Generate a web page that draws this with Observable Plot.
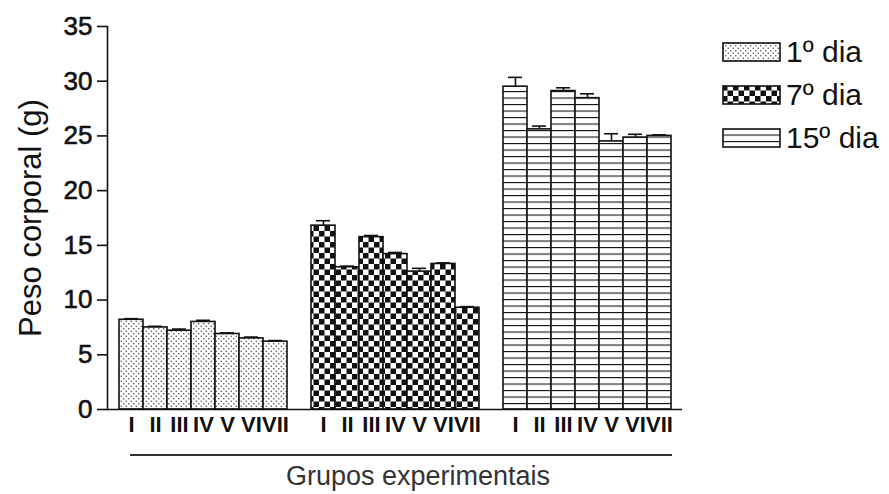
<!DOCTYPE html>
<html>
<head>
<meta charset="utf-8">
<script src="https://cdn.jsdelivr.net/npm/d3@7"></script>
<script src="https://cdn.jsdelivr.net/npm/@observablehq/plot@0.6"></script>
<style>
  html, body { margin: 0; padding: 0; background: #fff; overflow: hidden; }
  #wrap { position: relative; width: 889px; height: 494px; font-family: "Liberation Sans", Arial, sans-serif; }
  #chart { position: absolute; left: 0; top: 0; }
  #legend { position: absolute; left: 722px; top: 30px; }
  .lrow { display: flex; align-items: center; height: 43px; font-size: 30px; color: #111; }
  .lrow svg { margin-right: 5px; }
  #caption { position: absolute; left: 0; top: 440px; width: 889px; height: 54px; }
  #bracket { position: absolute; left: 130px; width: 542px; top: 14px; border-top: 2px solid #333; }
  #xlabel { position: absolute; left: 218px; width: 400px; top: 21px; text-align: center; font-size: 27px; color: #333; }
</style>
</head>
<body>
<svg width="0" height="0" style="position:absolute">
  <defs>
    <pattern id="dots" patternUnits="userSpaceOnUse" width="5" height="5">
      <rect width="5" height="5" fill="#fff"/>
      <circle cx="1.25" cy="1.25" r="0.75" fill="#444"/>
      <circle cx="3.75" cy="3.75" r="0.75" fill="#444"/>
    </pattern>
    <pattern id="checks" patternUnits="userSpaceOnUse" width="11" height="11">
      <rect width="11" height="11" fill="#fff"/>
      <rect x="0" y="0" width="5.5" height="5.5" fill="#111"/>
      <rect x="5.5" y="5.5" width="5.5" height="5.5" fill="#111"/>
    </pattern>
    <pattern id="hlines" patternUnits="userSpaceOnUse" width="10" height="6.5">
      <rect width="10" height="6.5" fill="#fff"/>
      <rect x="0" y="0" width="10" height="1.1" fill="#111"/>
    </pattern>
  </defs>
</svg>
<div id="wrap">
  <div id="chart"></div>
  <div id="legend"></div>
  <div id="caption"><div id="bracket"></div><div id="xlabel">Grupos experimentais</div></div>
</div>
<script>
const groups = ["I", "II", "III", "IV", "V", "VI", "VII"];
const days = ["1º dia", "7º dia", "15º dia"];
const dia1 = [8.2, 7.5, 7.2, 8.0, 6.9, 6.5, 6.2];
const err1 = [0.1, 0.1, 0.15, 0.15, 0.1, 0.12, 0.1];
const dia7 = [16.8, 13.0, 15.75, 14.2, 12.6, 13.3, 9.3];
const err7 = [0.45, 0.1, 0.15, 0.15, 0.3, 0.1, 0.1];
const dia15 = [29.5, 25.6, 29.1, 28.45, 24.5, 24.85, 25.0];
const err15 = [0.85, 0.3, 0.3, 0.4, 0.7, 0.3, 0.1];
const yTicks = [0, 5, 10, 15, 20, 25, 30, 35];
const patterns = ["url(#dots)", "url(#checks)", "url(#hlines)"];

const seriesVals = [dia1, dia7, dia15];
const seriesErr = [err1, err7, err15];
const data = [];
const domain = [];
days.forEach((day, di) => {
  if (di > 0) domain.push("gap" + di);
  groups.forEach((g, gi) => {
    const key = day + "|" + g;
    domain.push(key);
    data.push({key, day, group: g, value: seriesVals[di][gi], err: seriesErr[di][gi]});
  });
});
const realKeys = data.map(d => d.key);

const chart = Plot.plot({
  width: 889,
  height: 440,
  marginLeft: 107,
  marginRight: 207,
  marginTop: 26,
  marginBottom: 31,
  style: {fontFamily: "'Liberation Sans', Arial, sans-serif", color: "#111", background: "transparent"},
  x: {type: "band", domain, paddingInner: 0, paddingOuter: 0.25, label: null},
  y: {domain: [0, 35], label: null},
  color: {domain: days, range: patterns},
  marks: [
    Plot.barY(data, {x: "key", y: "value", fill: "day", stroke: "#111", strokeWidth: 1.6}),
    Plot.ruleX(data, {x: "key", y1: "value", y2: d => d.value + d.err, stroke: "#111", strokeWidth: 1.6}),
    Plot.tickY(data, {x: "key", y: d => d.value + d.err, stroke: "#111", strokeWidth: 1.6, insetLeft: 5, insetRight: 5}),
    Plot.ruleY([0], {stroke: "#111", strokeWidth: 1.6}),
    Plot.frame({anchor: "left", stroke: "#111", strokeWidth: 1.6}),
    Plot.axisY({ticks: yTicks, tickSize: 10, tickPadding: 5, fontSize: 26, strokeWidth: 1.6, textStroke: "#111", textStrokeWidth: 0.6, label: null}),
    Plot.axisX({ticks: realKeys, tickFormat: k => k.split("|")[1], tickSize: 0, tickPadding: 7, fontSize: 22, fontWeight: "bold",
      fontFamily: "'Liberation Sans Narrow', 'Liberation Sans', Arial, sans-serif", label: null}),
    Plot.text(["Peso corporal (g)"], {frameAnchor: "left", textAnchor: "middle", rotate: -90, dx: -76, fontSize: 31, fill: "#111"})
  ]
});
document.getElementById("chart").appendChild(chart);

const legend = d3.select("#legend");
days.forEach((day, i) => {
  const row = legend.append("div").attr("class", "lrow");
  const s = row.append("svg").attr("width", 59).attr("height", 20);
  s.append("rect").attr("x", 1).attr("y", 1).attr("width", 57).attr("height", 18)
    .attr("fill", patterns[i]).attr("stroke", "#111").attr("stroke-width", 1.6);
  row.append("span").text(day);
});
</script>
</body>
</html>
